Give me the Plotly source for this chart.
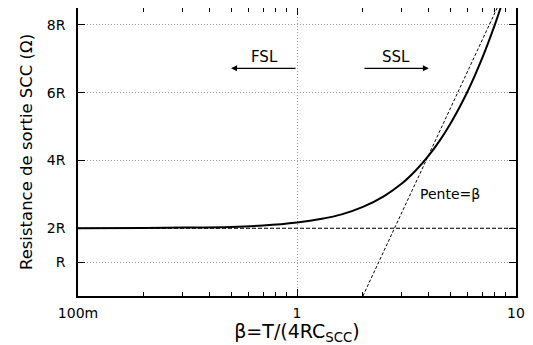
import numpy as np
import plotly.graph_objects as go

# Output resistance curve
beta = [0.1, 0.2, 0.3, 0.5, 0.7, 1.0, 1.3, 1.6, 2.0, 2.5, 3.0, 3.5, 4.0, 4.5,
        5.0, 5.5, 6.0, 6.5, 7.0, 7.5, 8.0, 8.5, 9.0]
r_out = [2.00, 2.01, 2.02, 2.04, 2.08, 2.17, 2.28, 2.41, 2.63, 2.95, 3.31, 3.72,
         4.15, 4.60, 5.07, 5.55, 6.03, 6.52, 7.01, 7.51, 8.00, 8.50, 9.00]

# Asymptote "Pente=β"
slope_beta = [2.0, 8.2]
slope_r = [0.0, 8.5]

# FSL asymptote (2R)
fsl_beta = [0.1, 10]
fsl_r = [2, 2]

# Arrows
fsl_arrow = [1.0, 0.5]
ssl_arrow = [2.0, 4.0]
arrow_y = 6.72
label_y = 7.05

y_tickvals = [1, 2, 4, 6, 8]
y_ticktext = ["R", "2R", "4R", "6R", "8R"]
x_tickvals = [0.1, 1, 10]
x_ticktext = ["100m", "1", "10"]
x_minor = [0.2, 0.3, 0.4, 0.5, 0.6, 0.7, 0.8, 0.9, 2, 3, 4, 5, 6, 7, 8, 9]

FONT = "DejaVu Sans"

fig = go.Figure()
fig.add_trace(go.Scatter(x=fsl_beta, y=fsl_r, mode="lines",
                         line=dict(color="black", width=1, dash="4px,2px"), showlegend=False))
fig.add_trace(go.Scatter(x=slope_beta, y=slope_r, mode="lines",
                         line=dict(color="black", width=1, dash="3px,2px"), showlegend=False))
fig.add_trace(go.Scatter(x=beta, y=r_out, mode="lines", line_shape="spline",
                         line=dict(color="black", width=2), showlegend=False))

lg = np.log10
fig.add_annotation(x=lg(fsl_arrow[1]), y=arrow_y, ax=lg(fsl_arrow[0]), ay=arrow_y,
                   xref="x", yref="y", axref="x", ayref="y", text="", showarrow=True,
                   arrowhead=2, arrowsize=1, arrowwidth=1.2, arrowcolor="black")
fig.add_annotation(x=lg(ssl_arrow[1]), y=arrow_y, ax=lg(ssl_arrow[0]), ay=arrow_y,
                   xref="x", yref="y", axref="x", ayref="y", text="", showarrow=True,
                   arrowhead=2, arrowsize=1, arrowwidth=1.2, arrowcolor="black")
fig.add_annotation(x=lg(np.sqrt(fsl_arrow[0] * fsl_arrow[1])), y=label_y, text="FSL",
                   showarrow=False, font=dict(size=15, color="black", family=FONT))
fig.add_annotation(x=lg(np.sqrt(ssl_arrow[0] * ssl_arrow[1])), y=label_y, text="SSL",
                   showarrow=False, font=dict(size=15, color="black", family=FONT))
fig.add_annotation(x=lg(3.55), y=3.0, text="Pente=β", showarrow=False, xanchor="left",
                   font=dict(size=14, color="black", family=FONT))

# page body has an 8px margin: figure is sized/offset to keep the plot area in place
fig.update_layout(
    width=525, height=337,
    margin=dict(l=70, r=17, t=0, b=49),
    paper_bgcolor="white", plot_bgcolor="white",
    font=dict(family=FONT, size=14, color="black"),
    xaxis=dict(type="log", range=[-1, 1], tickvals=x_tickvals, ticktext=x_ticktext,
               ticks="inside", ticklen=7, tickcolor="black", showline=True, linecolor="black",
               linewidth=1.5, mirror="allticks", showgrid=True, gridcolor="#999999",
               griddash="1px,2px", gridwidth=1, zeroline=False, ticklabelstandoff=3,
               automargin=False,
               minor=dict(tickvals=x_minor, ticks="inside", ticklen=4, tickcolor="black",
                          showgrid=False),
               title=dict(text="β=T/(4RC<sub>SCC</sub>)", font=dict(size=19), standoff=8)),
    yaxis=dict(range=[0, 8.5], tickvals=y_tickvals, ticktext=y_ticktext,
               ticks="inside", ticklen=7, tickcolor="black", showline=True, linecolor="black",
               linewidth=1.5, mirror="allticks", showgrid=True, gridcolor="#999999",
               griddash="1px,2px", gridwidth=1, zeroline=False, ticklabelstandoff=8,
               automargin=False,
               title=dict(text="Resistance de sortie SCC (Ω)", font=dict(size=16.5), standoff=10)),
)

fig.write_html("out.html")
